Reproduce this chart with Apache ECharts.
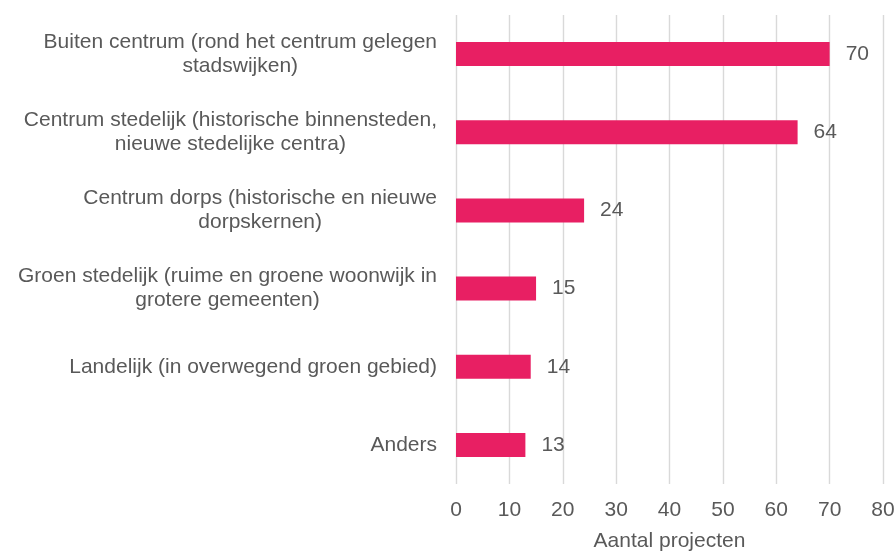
<!DOCTYPE html>
<html>
<head>
<meta charset="utf-8">
<script src="https://cdn.jsdelivr.net/npm/echarts@6/dist/echarts.min.js"></script>
<style>html,body{margin:0;padding:0;background:#fff}#c{width:896px;height:552px}</style>
</head>
<body>
<div id="c"></div>
<script>
const categories = [
  "Buiten centrum (rond het centrum gelegen\nstadswijken)",
  "Centrum stedelijk (historische binnensteden,\nnieuwe stedelijke centra)",
  "Centrum dorps (historische en nieuwe\ndorpskernen)",
  "Groen stedelijk (ruime en groene woonwijk in\ngrotere gemeenten)",
  "Landelijk (in overwegend groen gebied)",
  "Anders"
];
const values = [70, 64, 24, 15, 14, 13];
const axisTitle = "Aantal projecten";
const xMin = 0, xMax = 80, xStep = 10;

const font = 'Liberation Sans, Arial, sans-serif';
const textColor = '#595959';
const fs = 21;
const chart = echarts.init(document.getElementById('c'), null, {renderer: 'canvas'});
chart.setOption({
  animation: false,
  backgroundColor: '#ffffff',
  grid: {left: 456, right: 13, top: 15, bottom: 68, containLabel: false, outerBoundsMode: 'none'},
  xAxis: {
    type: 'value', min: xMin, max: xMax, interval: xStep,
    name: axisTitle, nameLocation: 'middle', nameGap: 47,
    nameTextStyle: {fontFamily: font, fontSize: fs, color: textColor},
    axisLine: {show: false}, axisTick: {show: false},
    axisLabel: {fontFamily: font, fontSize: fs, color: textColor, margin: 16},
    splitLine: {show: true, lineStyle: {color: '#d9d9d9', width: 1.4}}
  },
  yAxis: {
    type: 'category', data: categories, inverse: true,
    axisLine: {show: false}, axisTick: {show: false},
    axisLabel: {
      margin: 19, align: 'right',
      formatter: function (v) {
        return v.split('\n').map(function (l) { return '{c|' + l + '}'; }).join('\n');
      },
      rich: {c: {fontFamily: font, fontSize: fs, color: textColor, lineHeight: 24, align: 'center'}}
    },
    splitLine: {show: false}
  },
  series: [{
    type: 'bar', data: values, barWidth: 24,
    itemStyle: {color: '#E81F63'},
    label: {show: true, position: 'right', distance: 16, fontFamily: font, fontSize: fs, color: textColor}
  }]
});
</script>
</body>
</html>
